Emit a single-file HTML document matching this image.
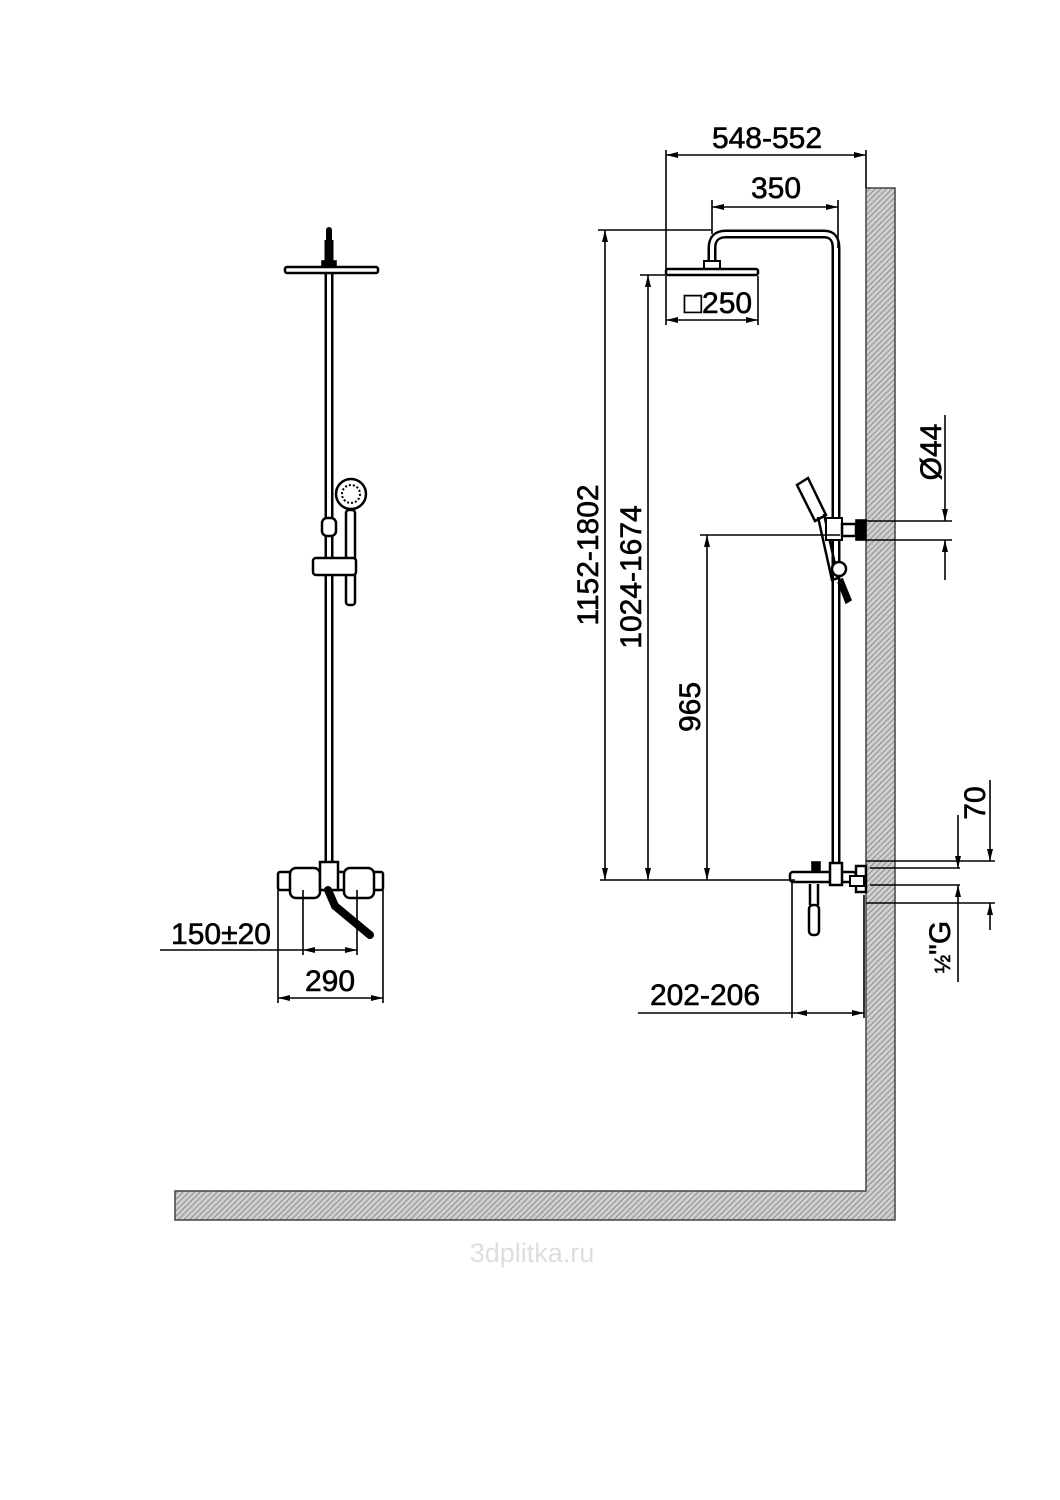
<!DOCTYPE html>
<html><head><meta charset="utf-8"><style>
html,body{margin:0;padding:0;background:#fff;}
svg{display:block;}
text{font-family:"Liberation Sans",sans-serif;fill:#000;}
</style></head><body>
<svg width="1060" height="1500" viewBox="0 0 1060 1500" xmlns="http://www.w3.org/2000/svg">
<defs>
<pattern id="h" patternUnits="userSpaceOnUse" width="4" height="4" patternTransform="rotate(45)">
<rect width="4" height="4" fill="#cfcfcf"/><line x1="0" y1="0" x2="0" y2="4" stroke="#7a7a7a" stroke-width="1.5"/>
</pattern>
<marker id="a" viewBox="0 0 12 6" refX="12" refY="3" markerWidth="12" markerHeight="6" orient="auto-start-reverse" markerUnits="userSpaceOnUse">
<path d="M0,0 L12,3 L0,6 z" fill="#000"/></marker>
</defs>
<path d="M866,188 H895 V1220 H175 V1191 H866 Z" fill="url(#h)" stroke="#444" stroke-width="1.5"/>

<g stroke="#000" fill="none" stroke-width="1.6">
<path d="M712,262 V248 Q712,234 726,234 H824 Q836,234 836,248 V866" stroke-width="9"/>
<path d="M712,262 V248 Q712,234 726,234 H824 Q836,234 836,248 V866" stroke="#fff" stroke-width="4"/>
<rect x="704" y="261" width="16" height="8" fill="#fff" stroke-width="2"/>
<rect x="666" y="269" width="92" height="6" rx="2" fill="#fff" stroke-width="2.5"/>
<path d="M797,485 L808,478 L826,515 L815,521 Z" fill="#fff" stroke-width="2.5"/>
<path d="M818,517 L832,580 L838,578 L824,514" stroke-width="2.5"/>
<rect x="826" y="518" width="16" height="22" fill="#fff" stroke-width="2"/>
<rect x="842" y="524" width="14" height="12" fill="#fff" stroke-width="2.5"/>
<rect x="856" y="520" width="10" height="20" fill="#000"/>
<circle cx="839" cy="569" r="7" fill="#fff" stroke-width="2.5"/>
<path d="M842,578 L851,600 L846,603 L838,582" fill="#000"/>
<rect x="790" y="872" width="66" height="10" rx="3" fill="#fff" stroke-width="2.5"/>
<rect x="812" y="862" width="8" height="10" fill="#000"/>
<rect x="830" y="863" width="12" height="22" fill="#fff" stroke-width="2.5"/>
<rect x="856" y="866" width="10" height="26" fill="#fff" stroke-width="2.5"/>
<rect x="850" y="876" width="14" height="10" fill="#fff" stroke-width="2"/>
<path d="M810,884 V905 M818,884 V905" stroke-width="2.5"/>
<rect x="809" y="905" width="10" height="30" rx="4" fill="#fff" stroke-width="2.5"/>

<path d="M666,270 V150 M866,150 V188 M712,234 V200 M838,200 V248"/>
<path d="M666,155 H866" marker-start="url(#a)" marker-end="url(#a)"/>
<path d="M712,207 H838" marker-start="url(#a)" marker-end="url(#a)"/>
<path d="M666,276 V325 M758,276 V325"/>
<path d="M666,320 H758" marker-start="url(#a)" marker-end="url(#a)"/>
<path d="M598,230 H712 M640,275 H666 M600,880 H795 M700,535 H840"/>
<path d="M605,230 V880" marker-start="url(#a)" marker-end="url(#a)"/>
<path d="M648,275 V880" marker-start="url(#a)" marker-end="url(#a)"/>
<path d="M707,535 V880" marker-start="url(#a)" marker-end="url(#a)"/>
<path d="M866,521 H952 M866,540 H952"/>
<path d="M945,415 V521" marker-end="url(#a)"/>
<path d="M945,580 V540" marker-end="url(#a)"/>
<path d="M866,861 H995 M870,868 H960 M870,885 H960 M866,903 H995"/>
<path d="M990,780 V861" marker-end="url(#a)"/>
<path d="M990,930 V903" marker-end="url(#a)"/>
<path d="M958,815 V868" marker-end="url(#a)"/>
<path d="M958,982 V885" marker-end="url(#a)"/>
<path d="M792,880 V1018 M864,895 V1018 M638,1013 H795"/>
<path d="M795,1013 H864" marker-start="url(#a)" marker-end="url(#a)"/>

<path d="M329,870 V240" stroke-width="9"/>
<path d="M329,870 V240" stroke="#fff" stroke-width="4"/>
<path d="M329,230 V262" stroke-width="6" stroke-linecap="round"/>
<rect x="285" y="267" width="93" height="6" rx="2" fill="#fff" stroke-width="2.5"/>
<rect x="322" y="261" width="14" height="6" fill="#000"/>
<circle cx="351" cy="494" r="15" fill="#fff" stroke-width="2.5"/>
<circle cx="351" cy="494" r="9" stroke-width="2" stroke-dasharray="2 2"/>
<rect x="346" y="510" width="9" height="95" rx="3" fill="#fff" stroke-width="2.5"/>
<rect x="313" y="558" width="43" height="17" rx="3" fill="#fff" stroke-width="2.5"/>
<rect x="322" y="518" width="14" height="18" rx="5" fill="#fff" stroke-width="2.5"/>
<rect x="278" y="872" width="105" height="18" rx="2" fill="#fff" stroke-width="2.5"/>
<rect x="290" y="868" width="30" height="30" rx="6" fill="#fff" stroke-width="2.5"/>
<rect x="344" y="868" width="30" height="30" rx="6" fill="#fff" stroke-width="2.5"/>
<rect x="320" y="862" width="18" height="28" fill="#fff" stroke-width="2.5"/>
<path d="M328,890 L335,906 L370,935" stroke-width="8" stroke-linecap="round"/>
<path d="M278,890 V1003 M383,890 V1003 M303,890 V955 M357,890 V955"/>
<path d="M278,998 H383" marker-start="url(#a)" marker-end="url(#a)"/>
<path d="M160,950 H303"/>
<path d="M303,950 H357" marker-start="url(#a)" marker-end="url(#a)"/>
</g>

<g font-size="30" stroke="#000" stroke-width="0.6">
<text x="767" y="148" text-anchor="middle">548-552</text>
<text x="776" y="198" text-anchor="middle">350</text>
<text x="718" y="313" text-anchor="middle">□250</text>
<text transform="translate(598,555) rotate(-90)" text-anchor="middle">1152-1802</text>
<text transform="translate(641,577) rotate(-90)" text-anchor="middle">1024-1674</text>
<text transform="translate(700,707) rotate(-90)" text-anchor="middle">965</text>
<text transform="translate(941,452) rotate(-90)" text-anchor="middle">Ø44</text>
<text transform="translate(985,803) rotate(-90)" text-anchor="middle">70</text>
<text transform="translate(950,947) rotate(-90)" text-anchor="middle"><tspan font-size="22">½</tspan>"G</text>
<text x="705" y="1005" text-anchor="middle">202-206</text>
<text x="221" y="944" text-anchor="middle">150±20</text>
<text x="330" y="991" text-anchor="middle">290</text>
</g>
<text x="532" y="1262" text-anchor="middle" font-size="27" style="fill:#dedede">3dplitka.ru</text>
</svg>
</body></html>
